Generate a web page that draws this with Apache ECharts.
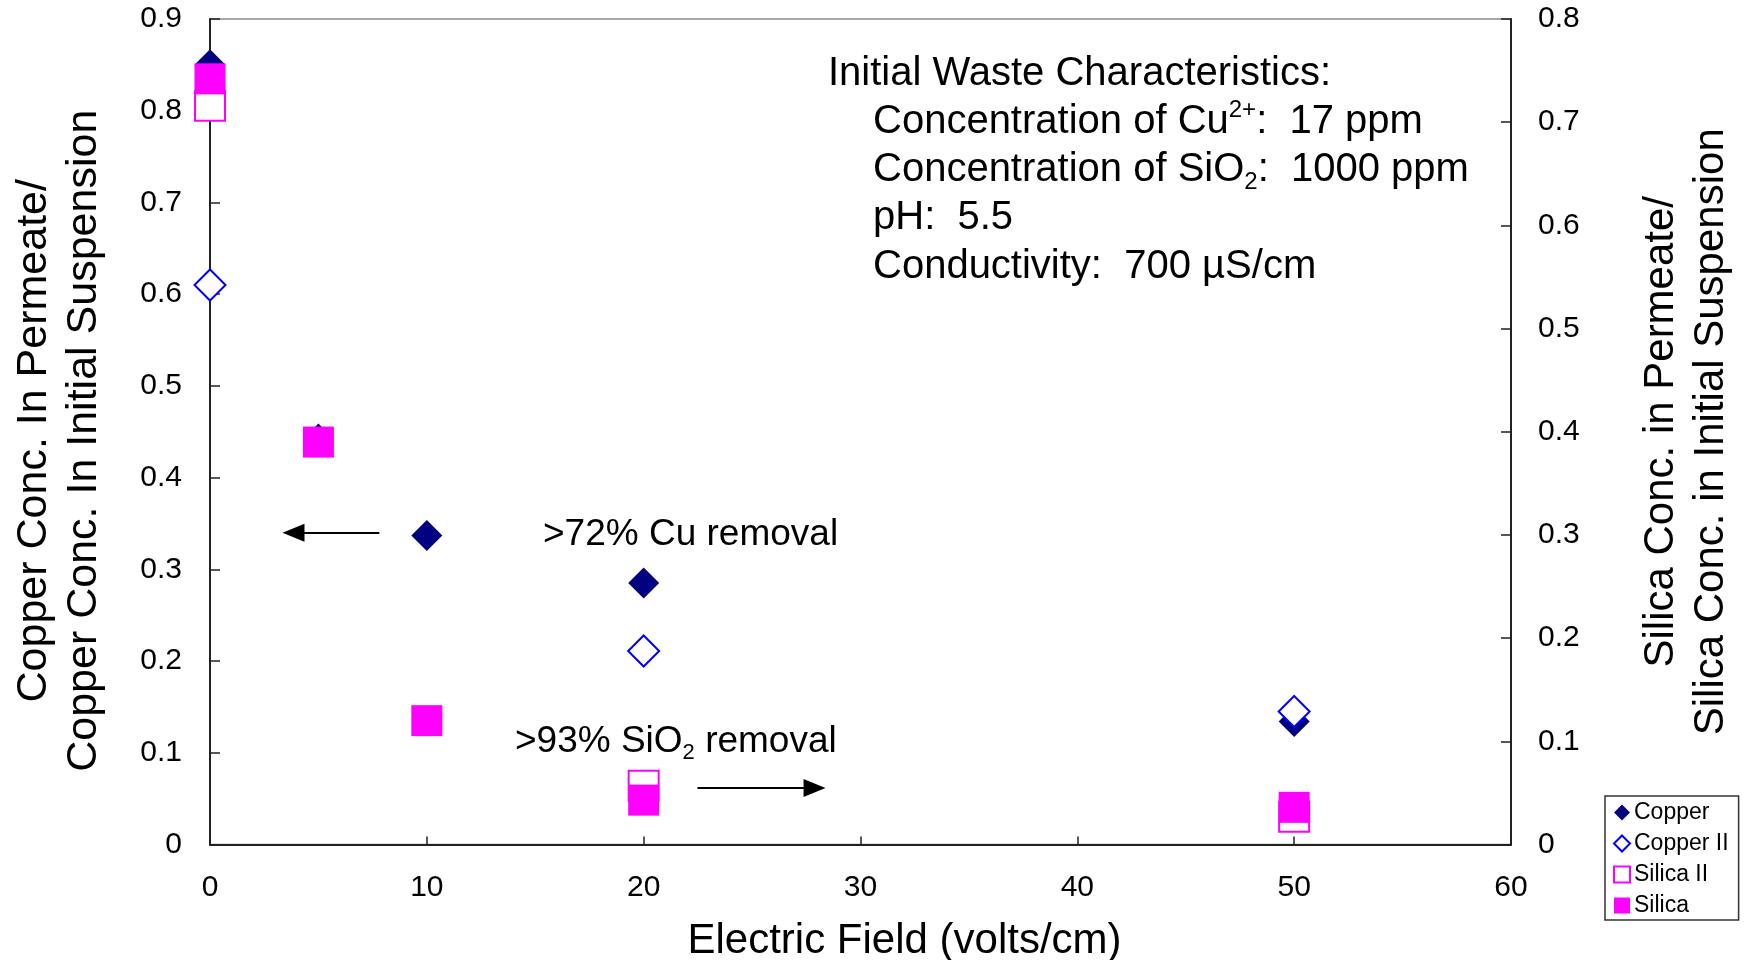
<!DOCTYPE html>
<html>
<head>
<meta charset="utf-8">
<title>Copper and silica removal vs electric field</title>
<script src="https://cdn.jsdelivr.net/npm/echarts@6/dist/echarts.min.js"></script>
<style>
  html, body { margin: 0; padding: 0; background: #fff; }
  #chart { width: 1748px; height: 960px; }
</style>
</head>
<body>
<div id="chart"></div>
<script>
// Electric field (volts/cm) at which each sample was taken
const fieldX = [0, 5, 10, 20, 50];
const repeatFieldX = [0, 20, 50];

// Permeate / initial concentration ratios
const copper = [0.85, 0.442, 0.337, 0.285, 0.134];     // left axis
const copperII = [0.61, 0.211, 0.145];                 // left axis, repeat run
const silicaII = [0.716, 0.057, 0.027];                // right axis, repeat run
const silica = [0.742, 0.39, 0.12, 0.043, 0.036];      // right axis

// Axis ranges and tick steps
const xRange = [0, 60, 10];
const leftRange = [0, 0.9, 0.1];
const rightRange = [0, 0.8, 0.1];

// Arrow annotations (field, left-axis ratio) from tail to head
const cuArrow = [[7.81, 0.34], [3.85, 0.34]];
const siArrow = [[22.48, 0.0616], [27.88, 0.0616]];

const FONT = "'Liberation Sans', Arial, Helvetica, sans-serif";

function pairs(xs, ys) { return xs.map((x, i) => [x, ys[i]]); }

const chart = echarts.init(document.getElementById('chart'), null, { renderer: 'canvas' });

const tickLabel = { color: '#000', fontSize: 30, fontFamily: FONT };

const option = {
  animation: false,
  backgroundColor: '#fff',
  grid: {
    left: 210, right: 237, top: 19, bottom: 115.5,
    outerBoundsMode: 'none', containLabel: false,
    show: true, borderColor: '#8c8c8c', borderWidth: 1.5, backgroundColor: 'transparent'
  },
  xAxis: {
    type: 'value',
    min: xRange[0], max: xRange[1], interval: xRange[2],
    name: 'Electric Field (volts/cm)',
    nameLocation: 'middle', nameGap: 76, nameMoveOverlap: false,
    nameTextStyle: { color: '#000', fontSize: 42, fontFamily: FONT, padding: [0, 0, 0, 88] },
    axisLine: { show: true, onZero: false, lineStyle: { color: '#222', width: 2 } },
    axisTick: { show: true, inside: true, length: 8, lineStyle: { color: '#222', width: 1.5 } },
    axisLabel: Object.assign({ margin: 28 }, tickLabel),
    splitLine: { show: false }
  },
  yAxis: [
    {
      type: 'value', position: 'left',
      min: leftRange[0], max: leftRange[1], interval: leftRange[2],
      name: 'Copper Conc. In Permeate/\nCopper Conc. In Initial Suspension',
      nameLocation: 'middle', nameGap: 101, nameRotate: 90, nameMoveOverlap: false,
      nameTextStyle: { color: '#000', fontSize: 43, lineHeight: 50, fontFamily: FONT, align: 'center', padding: [0, 18, 0, 0] },
      axisLine: { show: true, onZero: false, lineStyle: { color: '#222', width: 2 } },
      axisTick: { show: true, inside: true, length: 10, lineStyle: { color: '#222', width: 1.5 } },
      axisLabel: Object.assign({ margin: 28, formatter: v => String(+v.toFixed(1)) }, tickLabel),
      splitLine: { show: false }
    },
    {
      type: 'value', position: 'right',
      min: rightRange[0], max: rightRange[1], interval: rightRange[2],
      name: 'Silica Conc. in Permeate/\nSilica Conc. in Initial Suspension',
      nameLocation: 'middle', nameGap: 125, nameRotate: 90, nameMoveOverlap: false,
      nameTextStyle: { color: '#000', fontSize: 42, lineHeight: 50, fontFamily: FONT, align: 'center' },
      axisLine: { show: true, onZero: false, lineStyle: { color: '#222', width: 2 } },
      axisTick: { show: true, inside: true, length: 10, lineStyle: { color: '#222', width: 1.5 } },
      axisLabel: Object.assign({ margin: 27, formatter: v => String(+v.toFixed(1)) }, tickLabel),
      splitLine: { show: false }
    }
  ],
  legend: {
    orient: 'vertical',
    left: 1605, top: 796,
    data: ['Copper', 'Copper II', 'Silica II', 'Silica'],
    backgroundColor: '#fff',
    borderColor: '#333', borderWidth: 1.5, borderRadius: 0,
    padding: [5, 10, 3, 8],
    itemWidth: 16, itemHeight: 16, itemGap: 8,
    textStyle: { color: '#000', fontSize: 23, fontFamily: FONT, padding: [0, 0, 0, -1] },
    selectedMode: false
  },
  series: [
    {
      name: 'Copper', type: 'scatter', yAxisIndex: 0,
      symbol: 'diamond', symbolSize: 31,
      itemStyle: { color: '#000080', opacity: 1 },
      emphasis: { disabled: true },
      data: pairs(fieldX, copper),
      markLine: {
        silent: true, animation: false,
        symbol: ['none', 'triangle'], symbolSize: [18, 22],
        label: { show: false },
        lineStyle: { color: '#000', width: 2, type: 'solid' },
        emphasis: { disabled: true },
        data: [
          [{ coord: cuArrow[0] }, { coord: cuArrow[1] }],
          [{ coord: siArrow[0] }, { coord: siArrow[1] }]
        ]
      }
    },
    {
      name: 'Copper II', type: 'scatter', yAxisIndex: 0,
      symbol: 'diamond', symbolSize: 31,
      itemStyle: { color: '#ffffff', borderColor: '#0000ff', borderWidth: 2, opacity: 1 },
      emphasis: { disabled: true },
      data: pairs(repeatFieldX, copperII)
    },
    {
      name: 'Silica II', type: 'scatter', yAxisIndex: 1,
      symbol: 'rect', symbolSize: 30,
      itemStyle: { color: '#ffffff', borderColor: '#ff00ff', borderWidth: 2, opacity: 1 },
      emphasis: { disabled: true },
      data: pairs(repeatFieldX, silicaII)
    },
    {
      name: 'Silica', type: 'scatter', yAxisIndex: 1,
      symbol: 'rect', symbolSize: 31,
      itemStyle: { color: '#ff00ff', opacity: 1 },
      emphasis: { disabled: true },
      data: pairs(fieldX, silica)
    }
  ],
  graphic: []
};

// Rich-text styles for the annotation block
const big = { fontSize: 40, fontFamily: FONT, lineHeight: 48, fill: '#000' };
const mid = { fontSize: 37, fontFamily: FONT, lineHeight: 44, fill: '#000' };
function noteText(x, y, text, rich, base) {
  return {
    type: 'text', x: x, y: y, silent: true, z: 100,
    style: Object.assign({ text: text, rich: rich, align: 'left', verticalAlign: 'middle' }, base)
  };
}

const richBig = {
  n: big,
  sup: { fontSize: 24, fontFamily: FONT, lineHeight: 38, verticalAlign: 'top', fill: '#000' },
  sub: { fontSize: 24, fontFamily: FONT, lineHeight: 18, verticalAlign: 'bottom', fill: '#000' }
};
const richMid = {
  n: mid,
  sub: { fontSize: 22, fontFamily: FONT, lineHeight: 16, verticalAlign: 'bottom', fill: '#000' }
};

option.graphic = [
  noteText(828, 74, '{n|Initial Waste Characteristics:}', richBig, big),
  noteText(873, 122, '{n|Concentration of Cu}{sup|2+}{n|:  17 ppm}', richBig, big),
  noteText(873, 170, '{n|Concentration of SiO}{sub|2}{n|:  1000 ppm}', richBig, big),
  noteText(873, 218, '{n|pH:  5.5}', richBig, big),
  noteText(873, 267, '{n|Conductivity:  700 \u00b5S/cm}', richBig, big),
  noteText(543, 535, '{n|>72% Cu removal}', richMid, mid),
  noteText(515, 742, '{n|>93% SiO}{sub|2}{n| removal}', richMid, mid)
];

chart.setOption(option);
</script>
</body>
</html>
